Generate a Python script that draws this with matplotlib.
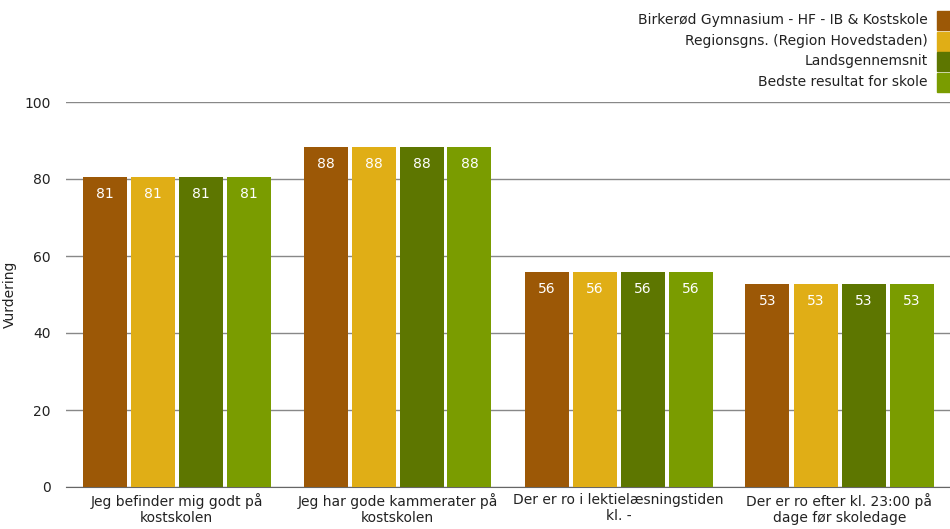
import matplotlib
matplotlib.use("Agg")
import matplotlib.pyplot as plt
from matplotlib.patches import Rectangle
import numpy as np

categories = ["Jeg befinder mig godt på\nkostskolen",
              "Jeg har gode kammerater på\nkostskolen",
              "Der er ro i lektielæsningstiden\nkl. -",
              "Der er ro efter kl. 23:00 på\ndage før skoledage"]
series_names = ["Birkerød Gymnasium - HF - IB & Kostskole",
                "Regionsgns. (Region Hovedstaden)",
                "Landsgennemsnit",
                "Bedste resultat for skole"]
values = [
    [80.6, 88.3, 55.8, 52.7],
    [80.6, 88.3, 55.8, 52.7],
    [80.6, 88.3, 55.8, 52.7],
    [80.6, 88.3, 55.8, 52.7],
]
colors = ["#9C5806", "#E0AE16", "#5D7600", "#7A9C00"]
yticks = [0, 20, 40, 60, 80, 100]

plt.rcParams['font.family'] = ['DejaVu Sans']
fig = plt.figure(figsize=(9.5, 5.29), dpi=100)
ax = fig.add_axes([66/950, 1-487/529, 1-66/950, (487-102)/529])

x = np.arange(len(categories))
stride = 48/221
bw = 44/221
for i, (name, vals, c) in enumerate(zip(series_names, values, colors)):
    pos = x + (i - 1.5) * stride
    ax.bar(pos, vals, width=bw, color=c, zorder=3)
    for p, v in zip(pos, vals):
        ax.text(p, v - 4.4, f"{v:.0f}", ha="center", va="center",
                color="white", fontsize=10, zorder=4)

ax.set_xlim(-0.5, 3.5)
ax.set_ylim(0, 100)
ax.set_yticks(yticks)
ax.set_xticks(x)
ax.set_xticklabels(categories, fontsize=10, color="#222222", linespacing=1.25)
ax.tick_params(axis="y", length=0, labelsize=10, labelcolor="#222222", pad=11)
ax.tick_params(axis="x", length=0, pad=4)
ax.grid(axis="y", color="#888888", linewidth=1, zorder=0)
for s in ["top", "right", "left"]:
    ax.spines[s].set_visible(False)
ax.spines["bottom"].set_color("#666666")
ax.set_ylabel("Vurdering", fontsize=10, color="#222222")
ax.yaxis.set_label_coords(-(66 - 17) / 884, 0.5)

# legend top right
ys = [20, 41, 61, 82]
for name, c, yp in zip(series_names, colors, ys):
    fig.text(928/950, 1 - yp/529, name, ha="right", va="center",
             fontsize=10, color="#222222")
    fig.patches.append(Rectangle((937/950, 1 - (yp + 10)/529), 13/950, 19/529,
                                 transform=fig.transFigure, color=c, figure=fig))

fig.savefig("out.png", dpi=100)
